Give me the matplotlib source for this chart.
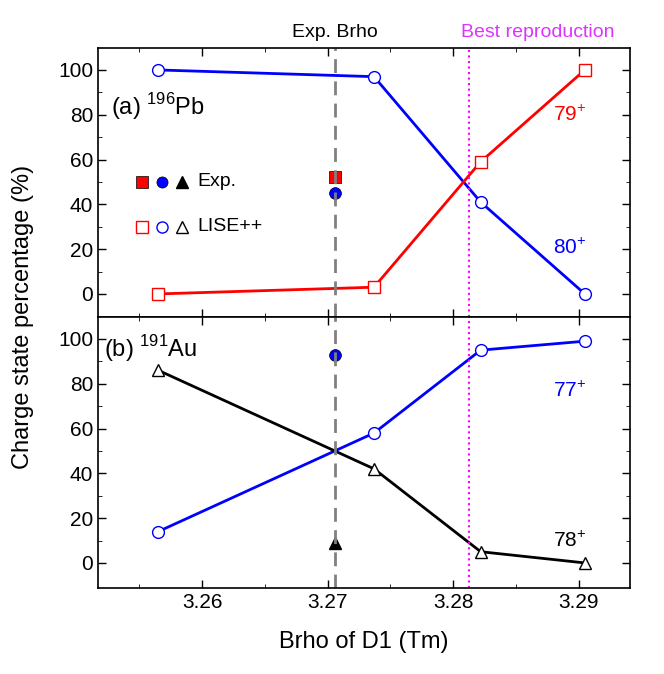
import matplotlib
matplotlib.use("Agg")
import matplotlib.pyplot as plt

x = [3.2565, 3.2737, 3.2822, 3.2905]
pb_80 = [100, 97, 41, 0]
pb_79 = [0, 3, 59, 100]
au_77 = [14, 58, 95, 99]
au_78 = [86, 42, 5, 0]
x_exp = 3.2706
x_best = 3.2813
pb_exp_79, pb_exp_80 = 52, 45
au_exp_77, au_exp_78 = 93, 9

plt.rcParams['font.family'] = 'Liberation Sans'
plt.rcParams['mathtext.fontset'] = 'custom'
plt.rcParams['mathtext.rm'] = 'Liberation Sans'
fig = plt.figure(figsize=(6.64, 6.74), dpi=100)
ax1 = fig.add_axes([98/664, 1-317/674, 532/664, 269/674])
ax2 = fig.add_axes([98/664, 1-588/674, 532/664, 271/674], sharex=ax1)

ms = 8.5
ax1.plot(x, pb_80, '-o', color='blue', mfc='white', ms=ms, lw=2)
ax1.plot(x, pb_79, '-s', color='red', mfc='white', ms=ms, lw=2)
ax1.plot([x_exp], [pb_exp_79], 's', color='red', mec='black', mew=0.5, ms=ms)
ax1.plot([x_exp], [pb_exp_80], 'o', color='blue', mec='black', mew=0.5, ms=ms)
ax2.plot(x, au_77, '-o', color='blue', mfc='white', ms=ms, lw=2)
ax2.plot(x, au_78, '-^', color='black', mfc='white', ms=ms, lw=2)
ax2.plot([x_exp], [au_exp_77], 'o', color='blue', mec='black', mew=0.5, ms=ms)
ax2.plot([x_exp], [au_exp_78], '^', color='black', ms=ms)

for ax in (ax1, ax2):
    ax.axvline(x_exp, color='gray', ls='--', lw=2, dashes=(5, 3))
    ax.axvline(x_best, color='magenta', ls=':', lw=1.5)
    ax.set_yticks([0, 20, 40, 60, 80, 100])
    ax.set_yticks([10, 30, 50, 70, 90], minor=True)
    ax.tick_params(direction='in', labelsize=15, length=6, width=1, top=True, right=True)
    ax.tick_params(which='minor', direction='in', length=3, top=True, right=True)
    for s in ax.spines.values():
        s.set_linewidth(1.2)
ax1.set_ylim(-10.3, 109.8)
ax2.set_ylim(-11.2, 109.8)
ax1.set_xlim(3.2517, 3.2941)
ax1.set_xticks([3.26, 3.27, 3.28, 3.29])
ax1.set_xticks([3.255, 3.265, 3.275, 3.285], minor=True)
ax1.tick_params(labelbottom=False)
ax2.set_xticklabels(['3.26', '3.27', '3.28', '3.29'])
ax2.set_xlabel('Brho of D1 (Tm)', fontsize=17, labelpad=14)
fig.text(0.035, 1-317/674, 'Charge state percentage (%)', rotation=90, fontsize=17, va='center', ha='center')

def sup(base, s, ax, xx, yy, color='black', fs=17, pre=''):
    pass

ax1.text(3.2527, 80, '(a) $^{\\mathregular{196}}$Pb', fontsize=17)
ax2.text(3.2522, 92, '(b) $^{\\mathregular{191}}$Au', fontsize=17)
ax1.text(3.2880, 77, '79$^{\\mathregular{+}}$', color='red', fontsize=15)
ax1.text(3.2880, 18, '80$^{\\mathregular{+}}$', color='blue', fontsize=15)
ax2.text(3.2880, 74, '77$^{\\mathregular{+}}$', color='blue', fontsize=15)
ax2.text(3.2880, 7, '78$^{\\mathregular{+}}$', color='black', fontsize=15)
ax1.text(x_exp, 113, 'Exp. Brho', ha='center', va='bottom', fontsize=14)
ax1.text(x_best - 0.0007, 113, 'Best reproduction', ha='left', va='bottom', fontsize=14, color='#dd33ff')

kw = dict(ms=8, ls='none')
lx = [3.2552, 3.2568, 3.2584]
ax1.plot(lx[0], 50, 's', color='red', mec='black', mew=0.5, **kw)
ax1.plot(lx[1], 50, 'o', color='blue', mec='black', mew=0.5, **kw)
ax1.plot(lx[2], 50, '^', color='black', **kw)
ax1.plot(lx[0], 30, 's', color='red', mfc='white', **kw)
ax1.plot(lx[1], 30, 'o', color='blue', mfc='white', **kw)
ax1.plot(lx[2], 30, '^', color='black', mfc='white', **kw)
ax1.text(3.2596, 50, 'Exp.', va='center', fontsize=14)
ax1.text(3.2596, 30, 'LISE++', va='center', fontsize=14)

fig.savefig('out.png', dpi=100)
